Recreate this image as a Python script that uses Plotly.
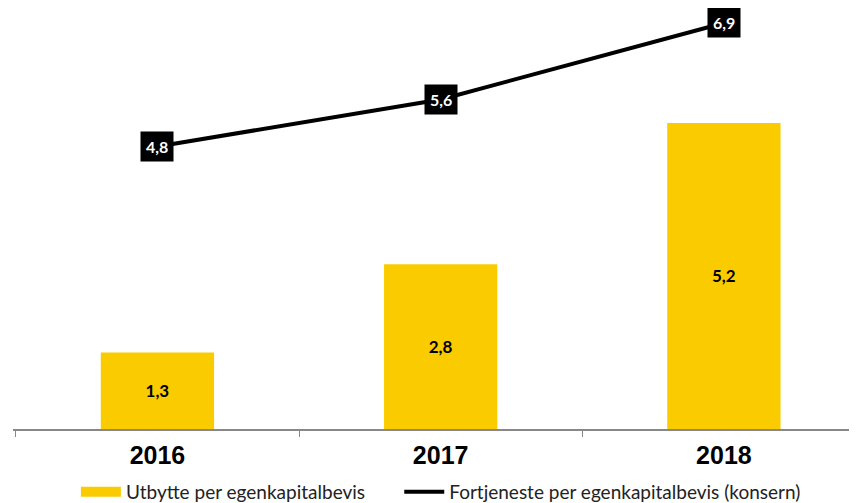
import plotly.graph_objects as go

years = ["2016", "2017", "2018"]
utbytte = [1.3, 2.8, 5.2]
fortjeneste = [4.8, 5.6, 6.9]
utbytte_labels = ["1,3", "2,8", "5,2"]
fortjeneste_labels = ["4,8", "5,6", "6,9"]

YELLOW = "#FACC00"

fig = go.Figure()
fig.add_trace(go.Bar(
    x=years, y=utbytte, name="Utbytte per egenkapitalbevis", showlegend=False,
    marker=dict(color=YELLOW, line=dict(width=0)),
    width=0.4, text=utbytte_labels, textposition="inside",
    insidetextanchor="middle",
    textfont=dict(family="Lato, Liberation Sans, sans-serif", size=17, color="black", weight="bold"),
))
# legend proxy for the bar series (wide rectangle like the original)
fig.add_trace(go.Scatter(
    x=[None], y=[None], name="Utbytte per egenkapitalbevis" + "&nbsp;" * 6,
    mode="lines", line=dict(color=YELLOW, width=10),
))
fig.add_trace(go.Scatter(
    x=years, y=fortjeneste, name="Fortjeneste per egenkapitalbevis (konsern)",
    mode="lines", line=dict(color="black", width=4),
))
for i, (yv, t) in enumerate(zip(fortjeneste, fortjeneste_labels)):
    fig.add_annotation(x=i, y=yv, text="<b>" + t + "</b>", showarrow=False,
                       bgcolor="black", borderpad=5,
                       font=dict(family="Lato, Liberation Sans, sans-serif", size=16, color="white"))

fig.update_layout(
    width=857, height=503,
    margin=dict(l=5, r=8, t=2, b=82, autoexpand=False),
    plot_bgcolor="white", paper_bgcolor="white",
    showlegend=True,
    legend=dict(orientation="h", x=0.507, xanchor="center", y=0.0, yanchor="bottom",
                yref="container",
                font=dict(family="Lato, sans-serif", size=19, color="#222222"),
                itemwidth=40, tracegroupgap=0),
    xaxis=dict(type="category", range=[-0.51, 2.47], showline=True, linecolor="#888888", linewidth=2,
               ticks="outside", tickson="boundaries", ticklen=6, tickcolor="#888888",
               automargin=False, ticklabelstandoff=3,
               tickfont=dict(family="Liberation Sans, Arial", size=25, color="black", weight="bold"),
               showgrid=False),
    yaxis=dict(range=[0, 7.12], visible=False, showgrid=False, automargin=False),
)
fig.write_html("out.html")
